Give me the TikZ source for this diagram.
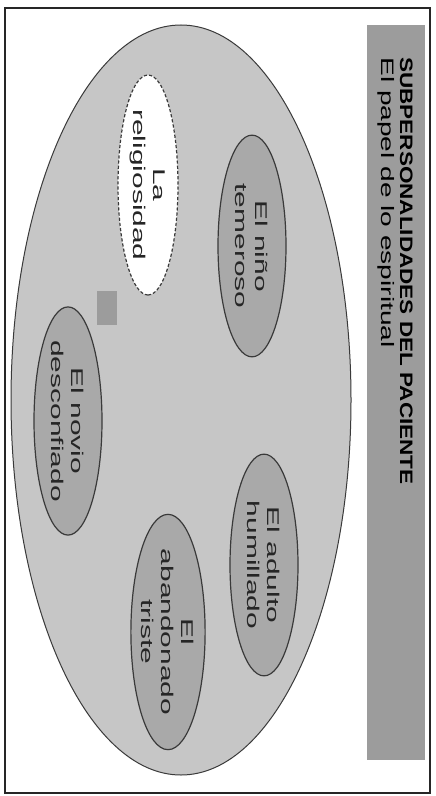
\documentclass[tikz,border=0pt]{standalone}
\usepackage{fontspec}
\setmainfont{Liberation Sans}
\usepackage{graphicx}
\usetikzlibrary{shapes.geometric}

\definecolor{bargray}{HTML}{9C9C9C}
\definecolor{selfgray}{HTML}{C6C6C6}
\definecolor{subgray}{HTML}{A9A9A9}
\definecolor{linegray}{HTML}{3A3A3A}

\begin{document}
\begin{tikzpicture}[
  x=0.5pt, y=-0.5pt,
  font=\fontsize{8.5}{10}\selectfont,
  sub/.style={ellipse, draw=linegray, line width=0.6pt, fill=subgray, rotate=-90, xscale=1.76,
    minimum width=63pt, minimum height=34pt, inner sep=0pt, align=center, text=black!85},
  dashsub/.style={sub, fill=white, dash pattern=on 1.6pt off 1pt, minimum height=30pt, minimum width=62.5pt}
]
\useasboundingbox (0,0) rectangle (435,796);
\fill[white] (0,0) rectangle (435,796);

% Frame and title
\draw[line width=0.8pt, black!85] (5,8) rectangle (430,793);
\fill[bargray] (367,25) rectangle (425,760);
\node[rotate=-90, anchor=north west, align=left, inner sep=0pt, font=\fontsize{9}{9.5}\selectfont] (title) at (413,57)
  {\scalebox{1.25}[1]{\bfseries SUBPERSONALIDADES DEL PACIENTE}\\ \scalebox{1.56}[1]{El papel de lo espiritual}};

% Patient
\node[ellipse, draw=linegray, line width=0.5pt, fill=selfgray, minimum width=170pt, minimum height=375pt, inner sep=0pt] (paciente) at (181,400) {};

% Subpersonalities
\node[dashsub] (relig)  at (148,185) {La\\ religiosidad};
\node[sub]     (nino)   at (252,246) {El niño\\ temeroso};
\node[sub]     (novio)  at (68,421)  {El novio\\ desconfiado};
\node[sub]     (adulto) at (264,565) {El adulto\\ humillado};
\node[sub]     (aband)  at (168,632) {El\\ abandonado\\ triste};

\node[fill=bargray, minimum width=10pt, minimum height=16.5pt, inner sep=0pt] (mark) at (107,308) {};

\end{tikzpicture}
\end{document}
